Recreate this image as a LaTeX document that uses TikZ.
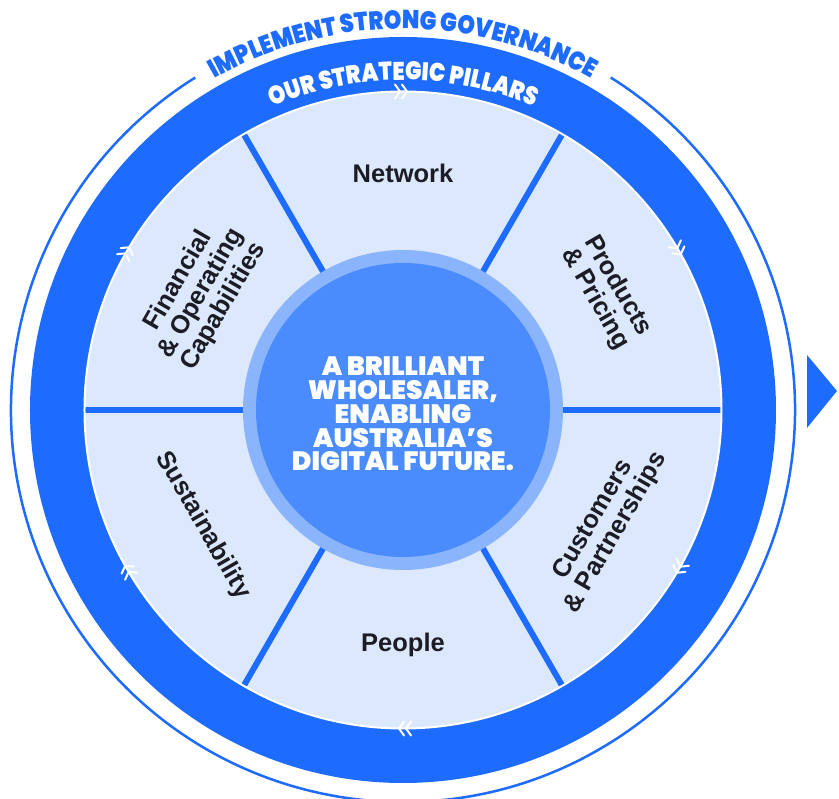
\documentclass[tikz,border=0pt]{standalone}
\usepackage{fontspec}
\usepackage{tikz}
\usetikzlibrary{decorations.text}
\setmainfont{Liberation Sans}
\newfontfamily\heavyfont{Poppins Black}
\newfontfamily\arcfont{Poppins Black}[FakeStretch=0.86]
\definecolor{ringblue}{RGB}{30,108,255}
\definecolor{paleblue}{RGB}{220,232,253}
\definecolor{hubring}{RGB}{138,180,251}
\definecolor{hubblue}{RGB}{74,139,253}
\definecolor{labelink}{RGB}{28,28,36}
\newcommand{\govfont}{\arcfont\fontsize{26}{26}\selectfont\color{ringblue}}
\newcommand{\bandfont}{\arcfont\fontsize{25.5}{25.5}\selectfont\color{white}}

\begin{document}
\begin{tikzpicture}[x=1pt,y=1pt,
  pillar/.style={font=\fontsize{25.5}{26}\selectfont\bfseries, text=labelink,
                 align=center, inner sep=0pt},
  hubtext/.style={font=\heavyfont\fontsize{26.5}{23.8}\selectfont, text=white,
                  align=center, inner sep=0pt},
  divider/.style={draw=ringblue, line width=6pt},
  chevron/.style={draw=white, line width=2pt, line cap=round, line join=round},
]
\useasboundingbox (-403,-389) rectangle (436,410);

% thin governance ring, open at the top for its title
\draw[ringblue, line width=2.5pt] (122:392) arc[start angle=122, end angle=418, radius=392];
\path[decorate, decoration={text along path, text align=center,
      text={|\govfont|IMPLEMENT STRONG GOVERNANCE}}]
  (122:381) arc[start angle=122, end angle=58, radius=381];

% pillar band and wedges
\fill[ringblue] (0,0) circle[radius=373];
\fill[paleblue] (0,0) circle[radius=318];
\foreach \a in {0,60,...,300}
  \draw[divider] (\a:150) -- (\a:318);
\draw[white, line width=2pt] (0,0) circle[radius=318.5];
\path[decorate, decoration={text along path, text align=center,
      text={|\bandfont|OUR STRATEGIC PILLARS}}]
  (115:330) arc[start angle=115, end angle=65, radius=330];

% clockwise chevrons on the band edge
\foreach \a in {90,30,-30,-90,-150,150}{
  \begin{scope}[shift={(\a:318.5)}, rotate=\a-90]
    \draw[chevron] (-8,7) -- (-3,0) -- (-8,-7)
                   (-1,7) -- (4,0) -- (-1,-7);
  \end{scope}
}

% hub
\fill[hubring] (0,0) circle[radius=160];
\fill[hubblue] (0,0) circle[radius=147];
\node[hubtext] (vision) at (0,-4)
  {A BRILLIANT\\WHOLESALER,\\ENABLING\\AUSTRALIA’S\\DIGITAL FUTURE.};

% pillar labels
\node[pillar] (network) at (90:237) {Network};
\node[pillar, rotate=-60] (products) at (30:235) {Products\\\& Pricing};
\node[pillar, rotate=60] (customers) at (-30:233) {Customers\\\& Partnerships};
\node[pillar] (people) at (-90:235) {People};
\node[pillar, rotate=-60] (sustain) at (210:231) {Sustainability};
\node[pillar, rotate=60] (finance) at (150:233) {Financial\\\& Operating\\Capabilities};

% onward arrow
\fill[ringblue] (404,55) -- (434,19) -- (404,-18) -- cycle;
\end{tikzpicture}
\end{document}
